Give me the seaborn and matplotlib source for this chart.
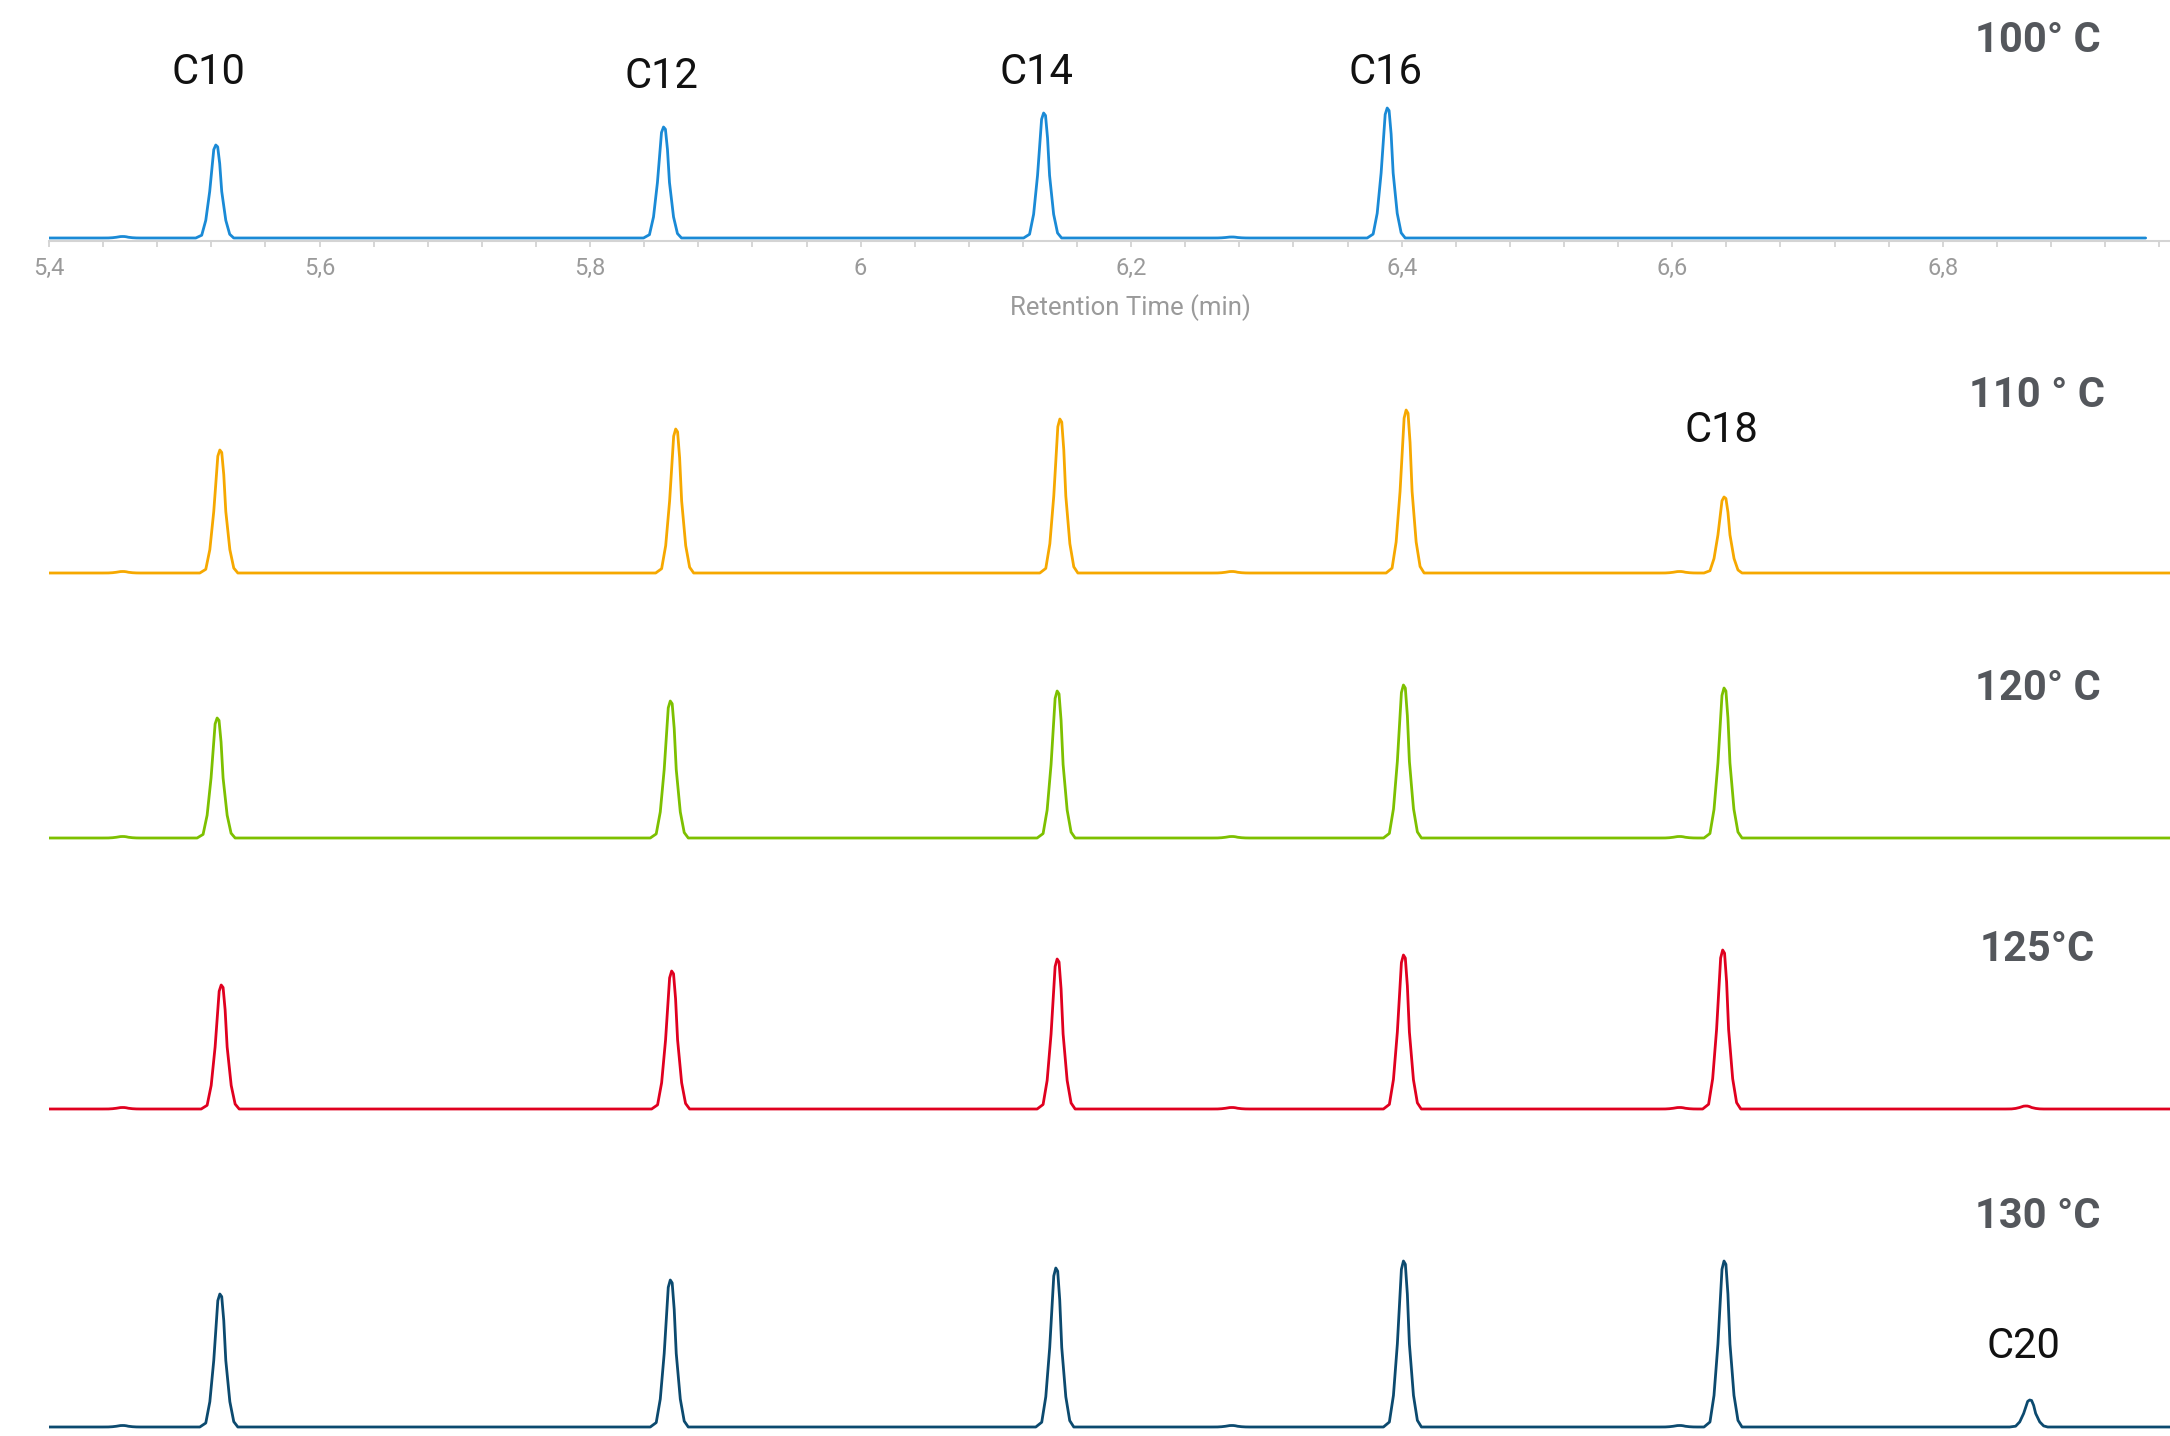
import numpy as np
import pandas as pd
import matplotlib
matplotlib.use("Agg")
import matplotlib.pyplot as plt
import seaborn as sns

# --- data (retention time in min, height in px-like units) ---
temps = ["100° C", "110 ° C", "120° C", "125°C", "130 °C"]
colors = ["#1a8ad6", "#f6a800", "#7dc000", "#e0001f", "#0c4a6f"]

peak_times = [
    [5.524, 5.855, 6.136, 6.390],
    [5.527, 5.864, 6.148, 6.404, 6.639],
    [5.525, 5.860, 6.146, 6.402, 6.639],
    [5.528, 5.861, 6.146, 6.402, 6.638, 6.862],
    [5.527, 5.860, 6.145, 6.402, 6.639, 6.865],
]
peak_heights = [
    [93, 111, 125, 130],
    [123, 144, 154, 163, 76],
    [120, 137, 147, 153, 150],
    [124, 138, 150, 154, 159, 3],
    [133, 147, 159, 166, 166, 27],
]
# tiny baseline bumps
bump_times = [5.455, 6.275, 6.606]
bump_heights = [
    [1.5, 1.0, 0.0],
    [1.5, 1.5, 1.5],
    [1.5, 1.5, 1.5],
    [1.5, 1.5, 1.5],
    [1.5, 1.5, 1.5],
]
trace_end = [6.950, 6.975, 6.975, 6.975, 6.975]

# shape of one peak (offset from apex, fraction of apex height)
profile_dt = [-0.0155, -0.0111, -0.0081, -0.0052, -0.0022, -0.0007,
              0.0007, 0.0022, 0.0037, 0.0067, 0.0096, 0.0126]
profile_frac = [0, 0.03, 0.19, 0.5, 0.95, 1.0, 0.98, 0.8, 0.5, 0.19, 0.04, 0]

label_panel = [0, 0, 0, 0, 1, 4]
label_text = ["C10", "C12", "C14", "C16", "C18", "C20"]
label_time = [5.518, 5.853, 6.130, 6.388, 6.636, 6.860]
label_height = [165, 162, 166, 165, 142, 81]

temp_label_time = 6.870
temp_label_height = [197, 177, 150, 159, 211]

tick_values = [5.4, 5.6, 5.8, 6.0, 6.2, 6.4, 6.6, 6.8]
tick_labels = ["5,4", "5,6", "5,8", "6", "6,2", "6,4", "6,6", "6,8"]
x_min, x_max = 5.4, 6.968

# --- layout (pixel positions of each trace baseline) ---
W, H = 2170, 1436
baseline_px = [238, 573, 838, 1109, 1427]
y_lo, y_hi = -3, 215
left_px = 49

sns.set_theme(style="white")
plt.rcParams["font.family"] = ["Roboto", "DejaVu Sans"]

fig = plt.figure(figsize=(W / 100, H / 100), dpi=100)


def build_trace(i):
    pts = [(x_min, 0.0), (trace_end[i], 0.0)]
    for t, h in zip(peak_times[i] + bump_times, peak_heights[i] + bump_heights[i]):
        if h <= 0:
            continue
        for dt, f in zip(profile_dt, profile_frac):
            pts.append((t + dt, h * f))
    df = pd.DataFrame(pts, columns=["time", "signal"]).sort_values("time")
    return df


axes = []
for i in range(5):
    b = baseline_px[i]
    ax = fig.add_axes([left_px / W, 1 - (b - y_lo) / H,
                       1 - left_px / W, (y_hi - y_lo) / H])
    ax.set_facecolor("none")
    df = build_trace(i)
    sns.lineplot(data=df, x="time", y="signal", ax=ax, color=colors[i],
                 linewidth=2.0, estimator=None, sort=False)
    ax.set_xlim(x_min, x_max)
    ax.set_ylim(y_lo, y_hi)
    ax.text(temp_label_time, temp_label_height[i], temps[i], ha="center",
            va="center", fontsize=30, fontweight="bold", color="#54575c")
    axes.append(ax)

for p, txt, t, h in zip(label_panel, label_text, label_time, label_height):
    axes[p].text(t, h, txt, ha="center", va="center", fontsize=30, color="#111111")

# only the top trace keeps its time axis
top = axes[0]
for s in ["top", "right", "left"]:
    top.spines[s].set_visible(False)
top.spines["bottom"].set_color("#d4d4d4")
top.spines["bottom"].set_linewidth(1.5)
top.set_yticks([])
top.set_ylabel("")
top.set_xticks(tick_values)
top.set_xticklabels(tick_labels)
top.set_xticks(np.arange(5.4, 6.97, 0.04), minor=True)
top.tick_params(axis="x", which="both", direction="out", length=4.5, width=1.2,
                color="#cfcfcf", labelsize=17, labelcolor="#9a9a9a", pad=7,
                bottom=True)
top.set_xlabel("Retention Time (min)", fontsize=18.5, color="#9a9a9a")
top.xaxis.label.set_va("center")
top.xaxis.set_label_coords((1130 - left_px) / (W - left_px), -67 / (y_hi - y_lo))

for ax in axes[1:]:
    ax.axis("off")

fig.savefig("out.png", dpi=100)
